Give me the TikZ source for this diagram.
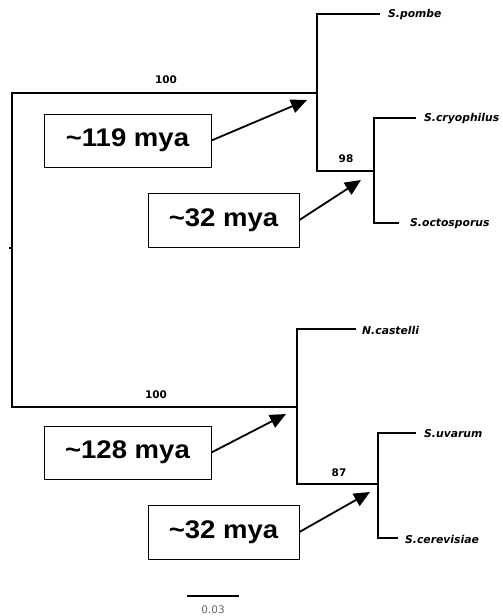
\documentclass[tikz,border=0pt]{standalone}
\usepackage{fontspec}
\setmainfont{Liberation Sans}
\newfontfamily\taxfont{DejaVu Sans}
\newfontfamily\agefont[FakeStretch=1.08]{Liberation Sans}
\usetikzlibrary{arrows.meta}

\begin{document}
\begin{tikzpicture}[x=1pt,y=-1pt,
  branch/.style={line width=2.6pt, line join=miter},
  taxon/.style={anchor=west, inner sep=0pt, font=\taxfont\bfseries\itshape\fontsize{10.8}{12}\selectfont},
  support/.style={inner sep=0pt, font=\taxfont\bfseries\fontsize{10.5}{12}\selectfont},
  agebox/.style={draw, line width=0.8pt, inner sep=0pt, minimum height=53pt,
                 font=\agefont\bfseries\fontsize{25.5}{28}\selectfont},
  pointer/.style={line width=1.8pt, -{Triangle[length=16pt,width=14pt]}}]
\useasboundingbox (0,0) rectangle (503,616);

% internal nodes of the tree
\coordinate (root) at (12,248);
\coordinate (schizo) at (317,93);
\coordinate (pair1) at (374,171);
\coordinate (sacch) at (297,407);
\coordinate (pair2) at (378,484);

% tips
\coordinate (tpombe) at (380,14);
\coordinate (tcryo) at (416,118);
\coordinate (tocto) at (399,223);
\coordinate (tcast) at (356,329);
\coordinate (tuva) at (416,433);
\coordinate (tcer) at (398,538);

% branches
\draw[branch] (schizo) -| (root) |- (sacch);
\draw[branch] (tpombe) -| (schizo) |- (pair1);
\draw[branch] (tcryo) -| (pair1) |- (tocto);
\draw[branch] (tcast) -| (sacch) |- (pair2);
\draw[branch] (tuva) -| (pair2) |- (tcer);
\draw[line width=1.2pt] (root) -- ++(-3.5,0);

% taxon names
\node[taxon] (pombe) at (388,15) {S.pombe};
\node[taxon] (cryo) at (424,119) {S.cryophilus};
\node[taxon] (octo) at (410,224) {S.octosporus};
\node[taxon] (cast) at (362,330) {N.castelli};
\node[taxon] (uva) at (424,434) {S.uvarum};
\node[taxon] (cer) at (405,539) {S.cerevisiae};

% bootstrap support
\node[support] (s1) at (166,80) {100};
\node[support] (s2) at (346,159) {98};
\node[support] (s3) at (156,395) {100};
\node[support] (s4) at (339,473) {87};

% divergence time callouts
\node[agebox, minimum width=167pt] (age1) at (127.5,140.5) {\char"7E 119 mya};
\node[agebox, minimum width=151pt, minimum height=54pt] (age2) at (223.5,220) {\char"7E 32 mya};
\node[agebox, minimum width=167pt] (age3) at (127.5,452.5) {\char"7E 128 mya};
\node[agebox, minimum width=151pt, minimum height=54pt] (age4) at (223.5,532) {\char"7E 32 mya};

\coordinate (h1) at (307,100);
\coordinate (h2) at (361,180);
\coordinate (h3) at (286,414);
\coordinate (h4) at (370,492);
\draw[pointer] (age1.east) -- (h1);
\draw[pointer] (age2.east) -- (h2);
\draw[pointer] (age3.east) -- (h3);
\draw[pointer] (age4.east) -- (h4);

% scale bar
\coordinate (sbl) at (187,596);
\coordinate (sbr) at (239,596);
\draw[line width=1.8pt] (sbl) -- (sbr);
\node[inner sep=0pt, text=black!60, font=\taxfont\fontsize{10.5}{12}\selectfont] (sblabel) at (213,610) {0.03};
\end{tikzpicture}
\end{document}
